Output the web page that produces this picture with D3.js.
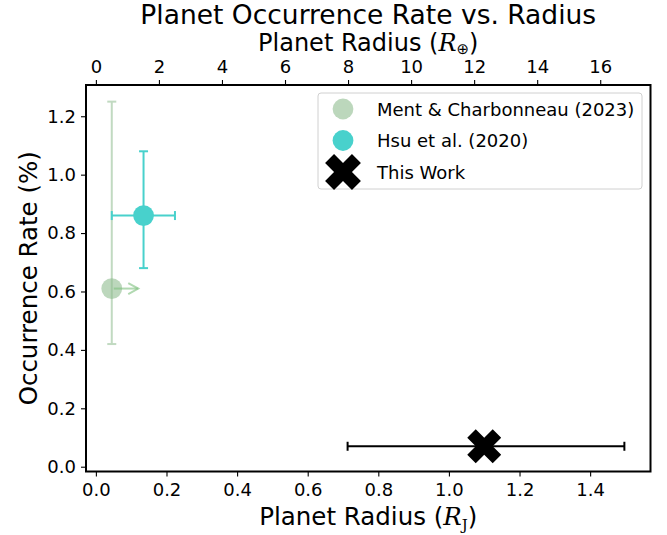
<!DOCTYPE html>
<html>
<head>
<meta charset="utf-8">
<script src="https://cdn.jsdelivr.net/npm/d3@7"></script>
<style>
  body { margin: 0; background: #fff; }
  text { font-family: "DejaVu Sans", sans-serif; fill: #000; }
  .math { font-family: "DejaVu Serif", "Liberation Serif", serif; }
</style>
</head>
<body>
<svg id="chart" width="667" height="535"></svg>
<script>
// ---- data ----
const series = ["Ment & Charbonneau (2023)", "Hsu et al. (2020)", "This Work"];
const radiusJ = [0.045, 0.135, 1.10];     // planet radius, Jupiter radii
const radiusLo = [0.045, 0.045, 0.713];   // x error bar ends
const radiusHi = [0.045, 0.224, 1.497];
const rate = [0.61, 0.86, 0.07];          // occurrence rate, %
const rateLo = [0.42, 0.68, 0.07];
const rateHi = [1.25, 1.08, 0.07];
const lowerLimit = [true, false, false];  // radius given as lower limit (arrow)
const colors = ["#8fbc8f", "#48d1cc", "#000000"];
const opacities = [0.6, 1, 1];
const symbols = ["circle", "circle", "x"];

const xTicks = [0, 0.2, 0.4, 0.6, 0.8, 1.0, 1.2, 1.4];
const yTicks = [0, 0.2, 0.4, 0.6, 0.8, 1.0, 1.2];
const earthTicks = [0, 2, 4, 6, 8, 10, 12, 14, 16];
const RJ_TO_RE = 11.2;

// ---- layout ----
const svg = d3.select("#chart");
const m = {left: 86, right: 650.5, top: 85, bottom: 471.5};
const x = d3.scaleLinear().domain([-0.028, 1.571]).range([m.left, m.right]);
const y = d3.scaleLinear().domain([-0.0164, 1.307]).range([m.bottom, m.top]);
const xTop = d3.scaleLinear().domain(x.domain().map(d => d * RJ_TO_RE)).range(x.range());
const fmt1 = d3.format(".1f");

function styleAxis(g) {
  g.select(".domain").remove();
  g.selectAll(".tick line").attr("stroke", "#000").attr("stroke-width", 1.1);
  g.selectAll(".tick text").style("font-size", "18px").attr("fill", "#000")
    .style("font-family", "DejaVu Sans");
}

svg.append("g").attr("transform", `translate(0,${m.bottom})`)
  .call(d3.axisBottom(x).tickValues(xTicks).tickFormat(fmt1).tickSize(5).tickPadding(7))
  .call(styleAxis);
svg.append("g").attr("transform", `translate(${m.left},0)`)
  .call(d3.axisLeft(y).tickValues(yTicks).tickFormat(fmt1).tickSize(5).tickPadding(5))
  .call(styleAxis);
svg.append("g").attr("transform", `translate(0,${m.top})`)
  .call(d3.axisTop(xTop).tickValues(earthTicks).tickFormat(d3.format("d")).tickSize(5).tickPadding(7))
  .call(styleAxis);

// ---- error bars ----
const pts = series.map((s, i) => ({i, s}));
const marks = svg.append("g");
const cap = 4.5;
pts.forEach(({i}) => {
  const g = marks.append("g").attr("stroke", colors[i]).attr("opacity", i === 0 ? 0.55 : 1)
    .attr("stroke-width", 2).attr("fill", "none");
  if (radiusLo[i] !== radiusHi[i]) {
    g.append("line").attr("x1", x(radiusLo[i])).attr("x2", x(radiusHi[i]))
      .attr("y1", y(rate[i])).attr("y2", y(rate[i]));
    [radiusLo[i], radiusHi[i]].forEach(v => g.append("line")
      .attr("x1", x(v)).attr("x2", x(v)).attr("y1", y(rate[i]) - cap).attr("y2", y(rate[i]) + cap));
  }
  if (rateLo[i] !== rateHi[i]) {
    g.append("line").attr("x1", x(radiusJ[i])).attr("x2", x(radiusJ[i]))
      .attr("y1", y(rateLo[i])).attr("y2", y(rateHi[i]));
    [rateLo[i], rateHi[i]].forEach(v => g.append("line")
      .attr("y1", y(v)).attr("y2", y(v)).attr("x1", x(radiusJ[i]) - cap).attr("x2", x(radiusJ[i]) + cap));
  }
});

// ---- markers ----
function drawMarker(g, i, cx, cy, size) {
  if (symbols[i] === "circle") {
    g.append("circle").attr("cx", cx).attr("cy", cy).attr("r", 10.4)
      .attr("fill", colors[i]).attr("fill-opacity", opacities[i]);
  } else {
    // filled X: a plus of arm width 1/3 rotated 45 degrees
    const s = (size || 36) / 6;
    const pl = [[-1,-3],[1,-3],[1,-1],[3,-1],[3,1],[1,1],[1,3],[-1,3],[-1,1],[-3,1],[-3,-1],[-1,-1]];
    g.append("path").attr("d", d3.line()(pl.map(p => [p[0] * s, p[1] * s])) + "Z")
      .attr("transform", `translate(${cx},${cy}) rotate(45)`)
      .attr("fill", colors[i]);
  }
}
pts.forEach(({i}) => drawMarker(marks, i, x(radiusJ[i]), y(rate[i])));

// lower-limit arrows
const arrowLength = 0.075;
pts.filter(({i}) => lowerLimit[i]).forEach(({i}) => {
  const x0 = x(radiusJ[i]) + 2, x1 = x(radiusJ[i] + arrowLength), yy = y(rate[i]);
  const a = marks.append("g").attr("stroke", "#7dbf7d").attr("stroke-opacity", 0.6)
    .attr("stroke-width", 2).attr("fill", "none");
  a.append("line").attr("x1", x0).attr("x2", x1).attr("y1", yy).attr("y2", yy);
  a.append("path").attr("d", `M${x1 - 10},${yy - 5.5}L${x1},${yy}L${x1 - 10},${yy + 5.5}`);
});

// ---- frame ----
svg.append("rect").attr("x", m.left).attr("y", m.top)
  .attr("width", m.right - m.left).attr("height", m.bottom - m.top)
  .attr("fill", "none").attr("stroke", "#000").attr("stroke-width", 2);

// ---- legend ----
const leg = svg.append("g");
leg.append("rect").attr("x", 318).attr("y", 93).attr("width", 324).attr("height", 96)
  .attr("rx", 3).attr("fill", "#fff").attr("fill-opacity", 0.8)
  .attr("stroke", "#d0d0d0").attr("stroke-width", 1);
pts.forEach(({i, s}) => {
  const ly = 109 + i * 31.5;
  drawMarker(leg, i, 343, ly, 38);
  leg.append("text").attr("x", 377).attr("y", ly + 6.5).style("font-size", "18px").text(s);
});

// ---- titles ----
svg.append("text").attr("x", (m.left + m.right) / 2).attr("y", 24)
  .attr("text-anchor", "middle").style("font-size", "26.5px")
  .text("Planet Occurrence Rate vs. Radius");

function mathLabel(t, sub, subFont, dy) {
  t.append("tspan").text("Planet Radius (");
  t.append("tspan").attr("class", "math").style("font-style", "italic").text("R");
  t.append("tspan").attr("class", subFont ? "math" : null).attr("dy", dy)
    .style("font-size", "15px").text(sub);
  t.append("tspan").attr("dy", -dy).text(")");
}
mathLabel(svg.append("text").attr("x", (m.left + m.right) / 2).attr("y", 51)
  .attr("text-anchor", "middle").style("font-size", "24px"), "\u2295", false, 3);
mathLabel(svg.append("text").attr("x", (m.left + m.right) / 2).attr("y", 525)
  .attr("text-anchor", "middle").style("font-size", "24.5px"), "J", true, 5);

svg.append("text").attr("transform", `translate(37,${(m.top + m.bottom) / 2}) rotate(-90)`)
  .attr("text-anchor", "middle").style("font-size", "24.5px").text("Occurrence Rate (%)");
</script>
</body>
</html>
